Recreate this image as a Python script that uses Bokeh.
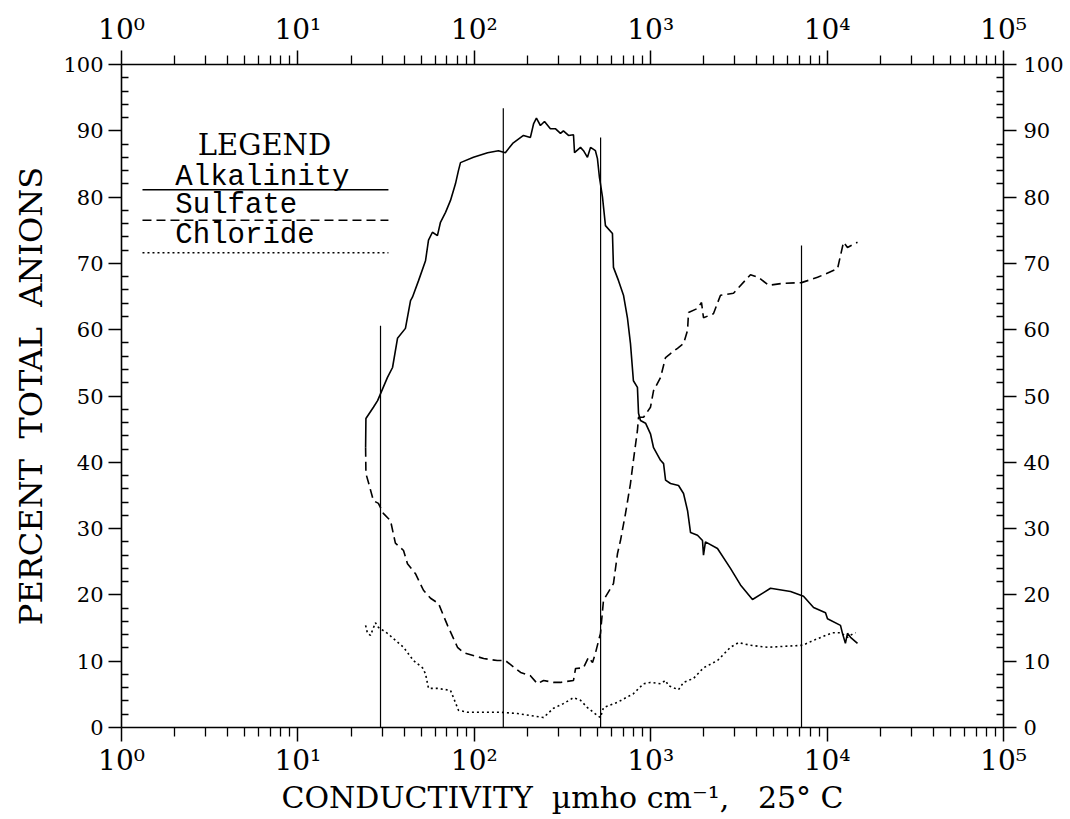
from bokeh.plotting import figure
from bokeh.models import LogAxis, LinearAxis, Range1d, FixedTicker, Label
from bokeh.embed import file_html
from bokeh.resources import INLINE

# ---------------- data ----------------
alk_x = [24.2, 24.3, 26.8, 28.3, 32.2, 34.4, 36.7, 40.7, 43.5, 44.6, 48.3, 52.9, 55.0, 57.9, 61.8,
         64.3, 68.7, 73.3, 78.2, 81.3, 83.5, 98.9, 119, 137, 150, 165, 190, 208, 217, 225, 237,
         250, 270, 289, 308, 320, 342, 365, 370, 400, 416, 438, 456, 486, 499, 512, 533, 554,
         607, 615, 657, 701, 738, 768, 798, 841, 853, 875, 935, 997, 1038, 1137, 1183, 1214,
         1295, 1438, 1535, 1618, 1682, 1842, 1966, 1992, 2043, 2391, 2833, 3228, 3776, 4777,
         6207, 7349, 8381, 9797, 10050, 11910, 12220, 12700, 13050, 13580, 14870]
alk_y = [42.2, 46.6, 48.3, 49.3, 52.8, 54.3, 58.7, 60.2, 64.4, 64.9, 67.4, 70.4, 73.5, 74.7, 74.2,
         76.2, 77.7, 79.5, 82.0, 84.0, 85.2, 86.0, 86.7, 87.0, 86.7, 88.1, 89.3, 89.0, 91.1, 91.9, 90.8,
         91.4, 90.3, 90.3, 89.6, 90.0, 89.3, 89.4, 86.7, 87.5, 87.0, 86.0, 87.5, 87.0, 85.8, 83.0, 80.0, 75.7,
         74.5, 69.4, 67.4, 65.2, 61.8, 57.9, 52.3, 51.3, 47.4, 46.3, 45.9, 44.3, 42.2, 40.3, 39.8, 37.3,
         36.8, 36.5, 35.3, 32.7, 29.4, 29.0, 28.2, 26.0, 28.0, 27.0, 24.0, 21.5, 19.3, 21.0,
         20.5, 19.8, 18.1, 17.3, 16.4, 15.4, 14.2, 12.7, 14.2, 13.6, 12.7]

sul_x = [24.2, 24.3, 25.1, 26.8, 28.6, 30.5, 33.5, 35.7, 39.7, 41.8, 46.4, 51.5, 56.5, 62.7, 70.5,
         80.3, 86.9, 113, 135, 150, 183, 208, 228, 247, 281, 308, 365, 375, 416, 444, 468, 486,
         519, 540, 615, 648, 674, 720, 768, 798, 841, 853, 911, 997, 1038, 1137, 1214, 1295,
         1419, 1535, 1618, 1638, 1842, 1941, 1992, 2268, 2487, 2947, 3679, 4084, 4655, 5660,
         7160, 8827, 11460, 12390, 13050, 14870]
sul_y = [42.2, 38.3, 37.0, 34.2, 33.8, 32.3, 31.2, 27.8, 26.7, 24.7, 23.2, 20.7, 19.5, 18.7, 15.4,
         12.1, 11.3, 10.4, 10.1, 10.1, 8.3, 7.8, 6.6, 7.1, 6.8, 6.8, 7.1, 8.9, 9.0, 10.6, 9.8, 11.2,
         14.2, 19.2, 21.7, 26.2, 28.2, 32.3, 36.8, 40.3, 44.8, 46.8, 46.8, 48.3, 50.8, 52.8, 55.8, 56.4,
         57.2, 57.9, 59.9, 62.6, 63.2, 64.1, 61.8, 62.4, 65.2, 65.5, 68.3, 67.9, 66.7, 67.0,
         67.1, 67.9, 69.2, 73.2, 72.4, 73.2]

chl_x = [24.2, 24.8, 25.8, 27.5, 28.6, 32.2, 39.7, 45.2, 50.9, 52.9, 55.0, 61.8, 73.3, 76.2, 81.3,
         91.5, 141, 176, 247, 281, 320, 365, 400, 438, 499, 519, 540, 648, 798, 911, 997, 1137,
         1214, 1262, 1438, 1535, 1749, 1992, 2391, 2833, 3146, 3679, 4592, 7256, 8827, 10730,
         11910, 13050, 14120, 14500]
chl_y = [15.4, 14.2, 13.9, 15.8, 15.1, 14.2, 12.1, 10.1, 9.0, 8.1, 5.9, 5.9, 5.6, 4.5, 2.6,
         2.3, 2.3, 2.1, 1.5, 2.9, 3.6, 4.5, 4.1, 3.0, 1.8, 1.5, 3.0, 3.8, 5.1, 6.6, 6.8, 6.6,
         7.1, 6.3, 5.7, 6.8, 7.4, 9.0, 10.1, 12.1, 12.8, 12.4, 12.1, 12.4, 13.4, 14.3,
         14.3, 13.6, 14.2, 14.3]

vline_x = [29.4, 146, 520, 7160]
vline_top = [60.6, 93.4, 89.0, 72.7]

x_major = [1, 10, 100, 1000, 10000, 100000]
x_labels = ["10\u2070", "10\u00b9", "10\u00b2", "10\u00b3", "10\u2074", "10\u2075"]
y_major = [0, 10, 20, 30, 40, 50, 60, 70, 80, 90, 100]
y_minor = [v for v in range(0, 101, 2) if v % 10]
x_minor = [m * d for d in x_major[:-1] for m in range(2, 10)]

legend_names = ["Alkalinity", "Sulfate", "Chloride"]
legend_dash = ["solid", "9 5", "2 3"]

# ---------------- layout / style ----------------
SERIF = "DejaVu Serif"
MONO = "Liberation Mono"
NB = "\u00a0"
LEG = dict(line_x0=1.315, line_x1=32.6, line_y=[81.1, 76.5, 71.6],
           text_x=2.02, text_y=[83.0, 78.7, 74.2], head_x=6.47, head_y=87.9)

p = figure(width=1070, height=819, x_axis_type="log",
           x_range=Range1d(1, 1e5), y_range=Range1d(0, 100),
           output_backend="svg", toolbar_location=None,
           min_border_left=121, min_border_right=67,
           min_border_top=64, min_border_bottom=92,
           background_fill_color="white", border_fill_color="white")
p.outline_line_color = None
p.xgrid.visible = False
p.ygrid.visible = False

x_ticker = FixedTicker(ticks=x_major, minor_ticks=x_minor)
y_ticker = FixedTicker(ticks=y_major, minor_ticks=y_minor)
overrides = {float(v): s for v, s in zip(x_major, x_labels)}


def style_axis(ax, horizontal):
    ax.axis_line_color = "black"
    ax.axis_line_width = 1.6
    ax.major_tick_line_color = "black"
    ax.minor_tick_line_color = "black"
    ax.major_tick_line_width = 1.5
    ax.minor_tick_line_width = 1.3
    ax.major_label_text_color = "black"
    ax.major_label_text_font = SERIF
    if horizontal:
        ax.major_tick_out = 14
        ax.major_tick_in = 0
        ax.minor_tick_out = 9
        ax.minor_tick_in = 0
        ax.major_label_text_font_size = "28px"
        ax.major_label_standoff = 2
    else:
        ax.major_tick_out = 13
        ax.major_tick_in = 0
        ax.minor_tick_out = 0
        ax.minor_tick_in = 7
        ax.major_label_text_font_size = "21px"
        ax.major_label_standoff = 5


xb = p.xaxis[0]
xb.ticker = x_ticker
xb.major_label_overrides = overrides
style_axis(xb, True)
xb.axis_label = "CONDUCTIVITY" + NB + " \u00b5mho cm\u207b\u00b9," + NB + NB + " 25\u00b0 C"
xb.axis_label_text_font = SERIF
xb.axis_label_text_font_size = "30px"
xb.axis_label_text_font_style = "normal"
xb.axis_label_text_color = "black"
xb.axis_label_standoff = 0

yl = p.yaxis[0]
yl.ticker = y_ticker
style_axis(yl, False)
yl.axis_label = "PERCENT" + NB + " TOTAL" + NB + " ANIONS"
yl.axis_label_text_font = SERIF
yl.axis_label_text_font_size = "32px"
yl.axis_label_text_font_style = "normal"
yl.axis_label_text_color = "black"
yl.axis_label_standoff = 10

xt = LogAxis(ticker=x_ticker, major_label_overrides=overrides)
style_axis(xt, True)
xt.major_label_standoff = 5
p.add_layout(xt, "above")

yr = LinearAxis(ticker=y_ticker)
style_axis(yr, False)
yr.major_label_standoff = 7
p.add_layout(yr, "right")

# ---------------- data marks ----------------
p.segment(x0=vline_x, y0=[0] * len(vline_x), x1=vline_x, y1=vline_top,
          line_color="black", line_width=1.2)
p.line(alk_x, alk_y, line_color="black", line_width=1.6)
p.line(sul_x, sul_y, line_color="black", line_width=1.6, line_dash="9 5")
p.line(chl_x, chl_y, line_color="black", line_width=1.6, line_dash="2 3")

# ---------------- legend ----------------
for name, dash, ly, ty in zip(legend_names, legend_dash, LEG["line_y"], LEG["text_y"]):
    p.line([LEG["line_x0"], LEG["line_x1"]], [ly, ly], line_color="black",
           line_width=1.5, line_dash=dash)
    p.add_layout(Label(x=LEG["text_x"], y=ty, text=name, text_font=MONO,
                       text_font_size="29px", text_color="black",
                       text_baseline="middle", text_align="left"))
p.add_layout(Label(x=LEG["head_x"], y=LEG["head_y"], text="LEGEND", text_font=SERIF,
                   text_font_size="29px", text_color="black",
                   text_baseline="middle", text_align="center"))

open("out.html", "w").write(file_html(p, INLINE))
